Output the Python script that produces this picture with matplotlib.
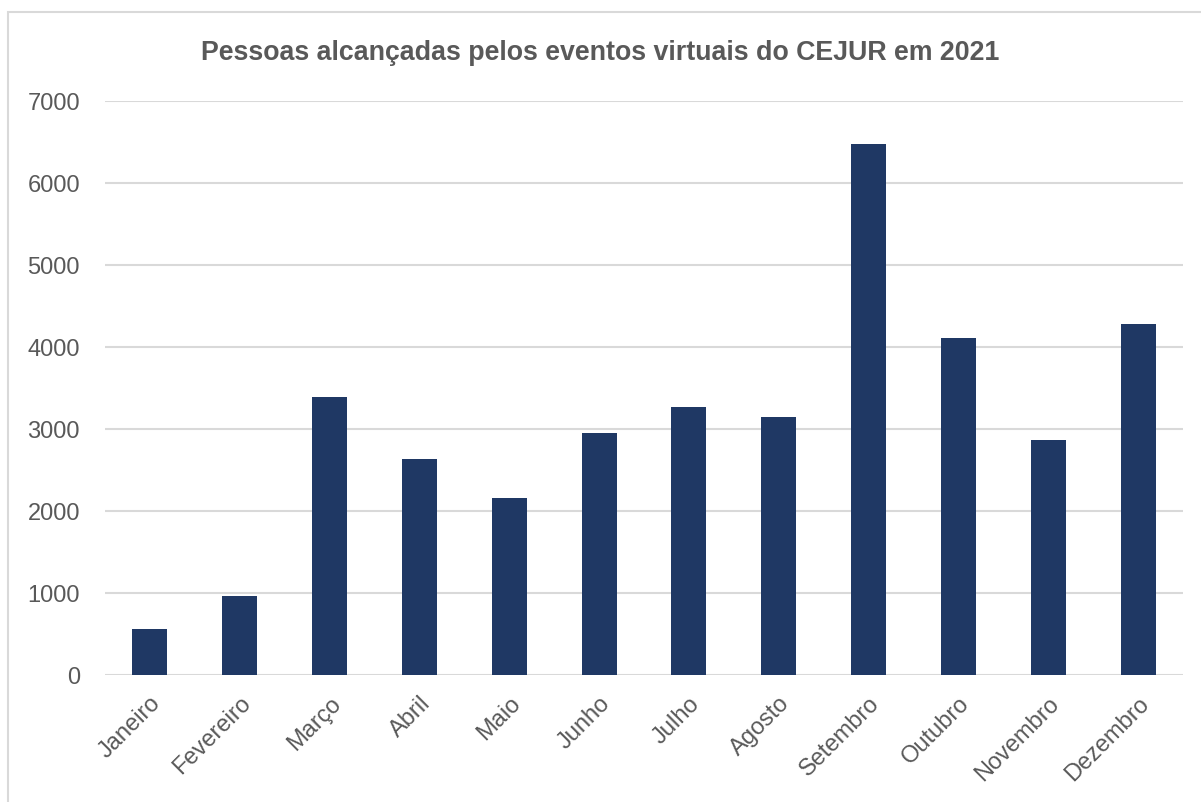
import matplotlib.pyplot as plt
from matplotlib.patches import Rectangle

# monthly reach values
meses = ["Janeiro", "Fevereiro", "Março", "Abril", "Maio", "Junho",
         "Julho", "Agosto", "Setembro", "Outubro", "Novembro", "Dezembro"]
pessoas = [560, 960, 3390, 2630, 2160, 2950, 3270, 3140, 6480, 4110, 2860, 4280]
y_ticks = [0, 1000, 2000, 3000, 4000, 5000, 6000, 7000]

plt.rcParams['font.family'] = ['Liberation Sans', 'DejaVu Sans']
cinza = '#595959'

fig = plt.figure(figsize=(12.01, 8.03), dpi=100)
ax = fig.add_axes([0.0874, 0.1582, 0.8976, 0.7148])

# chart area border like the spreadsheet export
fig.patches.append(Rectangle((8 / 1201, -0.05), 1.1, 1 - 13 / 803 + 0.05,
                             transform=fig.transFigure, fill=False,
                             edgecolor='#d9d9d9', linewidth=1.5))

ax.bar(range(len(meses)), pessoas, width=0.39, color='#1f3864', zorder=3)

ax.set_xlim(-0.5, len(meses) - 0.5)
ax.set_ylim(0, 7000)
ax.set_yticks(y_ticks)
ax.set_yticklabels([str(v) for v in y_ticks], fontsize=17, color=cinza)
ax.set_xticks(range(len(meses)))
ax.set_xticklabels(meses, rotation=45, ha='right', rotation_mode='anchor',
                   fontsize=17, color=cinza)
ax.tick_params(axis='both', length=0)
ax.tick_params(axis='y', pad=18)
ax.tick_params(axis='x', pad=12)

ax.grid(axis='y', color='#d9d9d9', linewidth=1.5, zorder=0)
for s in ax.spines.values():
    s.set_visible(False)

fig.text(0.5, 1 - 53 / 803, 'Pessoas alcançadas pelos eventos virtuais do CEJUR em 2021',
         ha='center', va='center', fontsize=19.3, fontweight='bold', color=cinza)

fig.savefig('out.png', dpi=100)
